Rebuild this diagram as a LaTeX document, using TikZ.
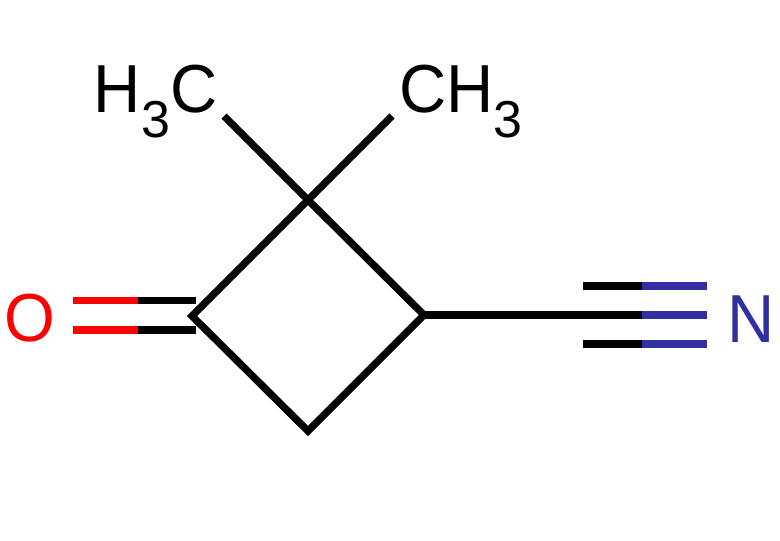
\documentclass[tikz,border=0pt]{standalone}
\usepackage{fontspec}
\setmainfont{Liberation Sans}
\usetikzlibrary{positioning,calc}
\definecolor{nitrogen}{RGB}{48,48,160}
\newcommand{\subthree}{\raisebox{-18.75pt}{\fontsize{39}{39}\selectfont 3}}
\newcommand{\tallatom}[1]{\scalebox{1}[1.04]{#1}}
\tikzset{
  bond/.style={line width=5.5pt,line cap=butt},
  atom/.style={font=\fontsize{49}{49}\selectfont,inner sep=0pt},
}
\begin{document}
\begin{tikzpicture}[x=0.75pt,y=-0.75pt]
	\useasboundingbox (0,0) rectangle (780,540);

	\coordinate (cq) at (308,200);
	\coordinate (cn) at (424,315);
	\coordinate (ch) at (308,431);
	\coordinate (co) at (192,316);
	\coordinate (ml) at (224,116);
	\coordinate (mr) at (392,116);

	\node[atom,text=red,anchor=base] (oxy) at (29.5,341) {\tallatom{O}};
	\node[atom,text=nitrogen,anchor=base] (nit) at (751,342) {\tallatom{N}};
	\node[atom,anchor=base east] (left) at (217.5,112) {\tallatom{H}\subthree\tallatom{C}};
	\node[atom,anchor=base west] (right) at (399,112) {\tallatom{CH}\subthree};

	% ring
	\draw[bond,line join=miter] (cq) -- (cn) -- (ch) -- (co) -- cycle;

	% methyl groups
	\draw[bond] (cq) -- (ml);
	\draw[bond] (cq) -- (mr);

	% carbonyl
	\coordinate (oa) at (196,300.5);
	\coordinate (ob) at (196,330);
	\draw[bond] (oa) -- (138,300.5);
	\draw[bond] (ob) -- (138,330);
	\draw[bond,red] (138,300.5) -- (73,300.5);
	\draw[bond,red] (138,330) -- (73,330);

	% nitrile
	\draw[bond] (cn) -- (642,315);
	\draw[bond] (583,286) -- (642,286);
	\draw[bond] (583,344) -- (642,344);
	\draw[bond,nitrogen] (642,286) -- (707,286);
	\draw[bond,nitrogen] (642,315) -- (707,315);
	\draw[bond,nitrogen] (642,344) -- (707,344);

\end{tikzpicture}
\end{document}
